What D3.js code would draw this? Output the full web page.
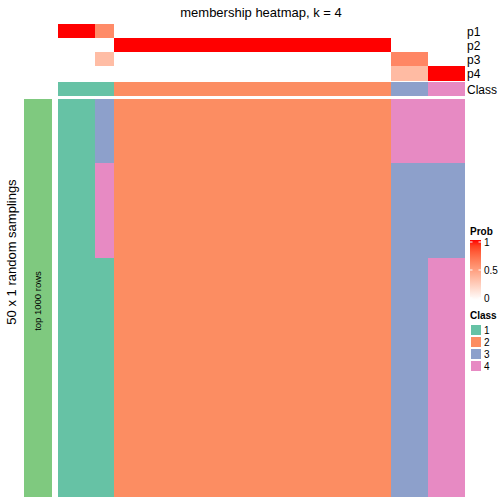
<!DOCTYPE html>
<html><head><meta charset="utf-8">
<script src="https://cdn.jsdelivr.net/npm/d3@7"></script>
<style>body{margin:0;background:#fff}svg{display:block;font-family:"Liberation Sans",Arial,sans-serif}rect{shape-rendering:crispEdges}</style>
</head><body><svg id="c" width="504" height="504"></svg>
<script>
const samples = d3.range(1, 23).map(i => "s" + i);
const classOf = [1,1,1,2,2,2,2,2,2,2,2,2,2,2,2,2,2,2,3,3,4,4];
const p1 = [1,1,0.6,0,0,0,0,0,0,0,0,0,0,0,0,0,0,0,0,0,0,0];
const p2 = [0,0,0,1,1,1,1,1,1,1,1,1,1,1,1,1,1,1,0,0,0,0];
const p3 = [0,0,0.35,0,0,0,0,0,0,0,0,0,0,0,0,0,0,0,0.62,0.62,0,0];
const p4 = [0,0,0,0,0,0,0,0,0,0,0,0,0,0,0,0,0,0,0.36,0.36,1,1];
const probRows = ["p1","p2","p3","p4"];
const probData = [p1,p2,p3,p4];
// row patterns of sampled classes (per sample) and how many rows repeat each pattern
const rowPatterns = [
  [1,1,3,2,2,2,2,2,2,2,2,2,2,2,2,2,2,2,4,4,4,4],
  [1,1,4,2,2,2,2,2,2,2,2,2,2,2,2,2,2,2,3,3,3,3],
  [1,1,1,2,2,2,2,2,2,2,2,2,2,2,2,2,2,2,3,3,4,4]
];
const rowCounts = [8, 12, 30];
const classLabels = ["1","2","3","4"];
const classColors = ["#66C2A5","#FC8D62","#8DA0CB","#E78AC3"];
const probTicks = [0, 0.5, 1];

const rows = [];
rowPatterns.forEach((p, i) => { for (let k = 0; k < rowCounts[i]; k++) rows.push(p); });

const svg = d3.select("#c");
const x = d3.scaleBand().domain(samples).range([58, 465]);
const y = d3.scaleBand().domain(d3.range(rows.length)).range([99, 497]);
const yAnn = d3.scaleBand().domain(probRows).range([24, 80.3]);
const probColor = d3.scaleLinear().domain([0, 1]).range(["#ffffff", "#ff0000"]).interpolate(d3.interpolateLab);
const classColor = d3.scaleOrdinal().domain([1,2,3,4]).range(classColors);
const cw = (i) => (i === samples.length - 1 ? x.bandwidth() : x.bandwidth() + 0.6);

svg.append("text").attr("x", 261).attr("y", 17).attr("text-anchor", "middle")
  .attr("font-size", 13).text("membership heatmap, k = 4");

// prob annotation
probRows.forEach((r, ri) => {
  svg.append("g").selectAll("rect").data(probData[ri]).join("rect")
    .attr("x", (d, i) => x(samples[i])).attr("width", (d, i) => cw(i))
    .attr("y", yAnn(r)).attr("height", yAnn.bandwidth() + 0.6)
    .attr("fill", d => probColor(d));
  svg.append("text").attr("x", 467).attr("y", yAnn(r) + yAnn.bandwidth() / 2 + 4.5)
    .attr("font-size", 12).text(r);
});
// class annotation
svg.append("g").selectAll("rect").data(classOf).join("rect")
  .attr("x", (d, i) => x(samples[i])).attr("width", (d, i) => cw(i))
  .attr("y", 82).attr("height", 14).attr("fill", d => classColor(d));
svg.append("text").attr("x", 467).attr("y", 93.5).attr("font-size", 12).text("Class");

// body
const g = svg.append("g");
rows.forEach((r, ri) => {
  g.append("g").selectAll("rect").data(r).join("rect")
    .attr("x", (d, i) => x(samples[i])).attr("width", (d, i) => cw(i))
    .attr("y", y(ri)).attr("height", ri === rows.length - 1 ? y.bandwidth() : y.bandwidth() + 0.6)
    .attr("fill", d => classColor(d));
});

// left bar
svg.append("rect").attr("x", 24).attr("y", 99).attr("width", 28).attr("height", 398).attr("fill", "#7FC97F");
svg.append("text").attr("transform", "translate(41,301) rotate(-90)").attr("text-anchor", "middle")
  .attr("font-size", 9.5).text("top 1000 rows");
svg.append("text").attr("transform", "translate(16,252) rotate(-90)").attr("text-anchor", "middle")
  .attr("font-size", 13).text("50 x 1 random samplings");

// Prob legend
svg.append("text").attr("x", 470).attr("y", 235).attr("font-size", 10).attr("font-weight", "bold").text("Prob");
const defs = svg.append("defs");
const lg = defs.append("linearGradient").attr("id", "pg").attr("x1", 0).attr("x2", 0).attr("y1", 1).attr("y2", 0);
d3.range(0, 1.01, 0.1).forEach(t => lg.append("stop").attr("offset", t).attr("stop-color", probColor(t)));
const ly = d3.scaleLinear().domain([0, 1]).range([298, 242]);
svg.append("rect").attr("x", 470).attr("y", 240).attr("width", 11).attr("height", 60).attr("fill", "url(#pg)");
probTicks.forEach(t => {
  svg.append("line").attr("x1", 470).attr("x2", 472.5).attr("y1", ly(t)).attr("y2", ly(t)).attr("stroke", "#fff").attr("stroke-width", 1);
  svg.append("line").attr("x1", 478.5).attr("x2", 481).attr("y1", ly(t)).attr("y2", ly(t)).attr("stroke", "#fff").attr("stroke-width", 1);
  svg.append("text").attr("x", 484).attr("y", ly(t) + 3.5).attr("font-size", 10).text(t);
});

// Class legend
svg.append("text").attr("x", 470).attr("y", 319).attr("font-size", 10).attr("font-weight", "bold").text("Class");
classLabels.forEach((c, i) => {
  svg.append("rect").attr("x", 470).attr("y", 324 + i * 12).attr("width", 11).attr("height", 11)
    .attr("fill", classColors[i]).attr("stroke", "#fff").attr("stroke-width", 1);
  svg.append("text").attr("x", 484).attr("y", 333.5 + i * 12).attr("font-size", 10).text(c);
});
</script></body></html>
